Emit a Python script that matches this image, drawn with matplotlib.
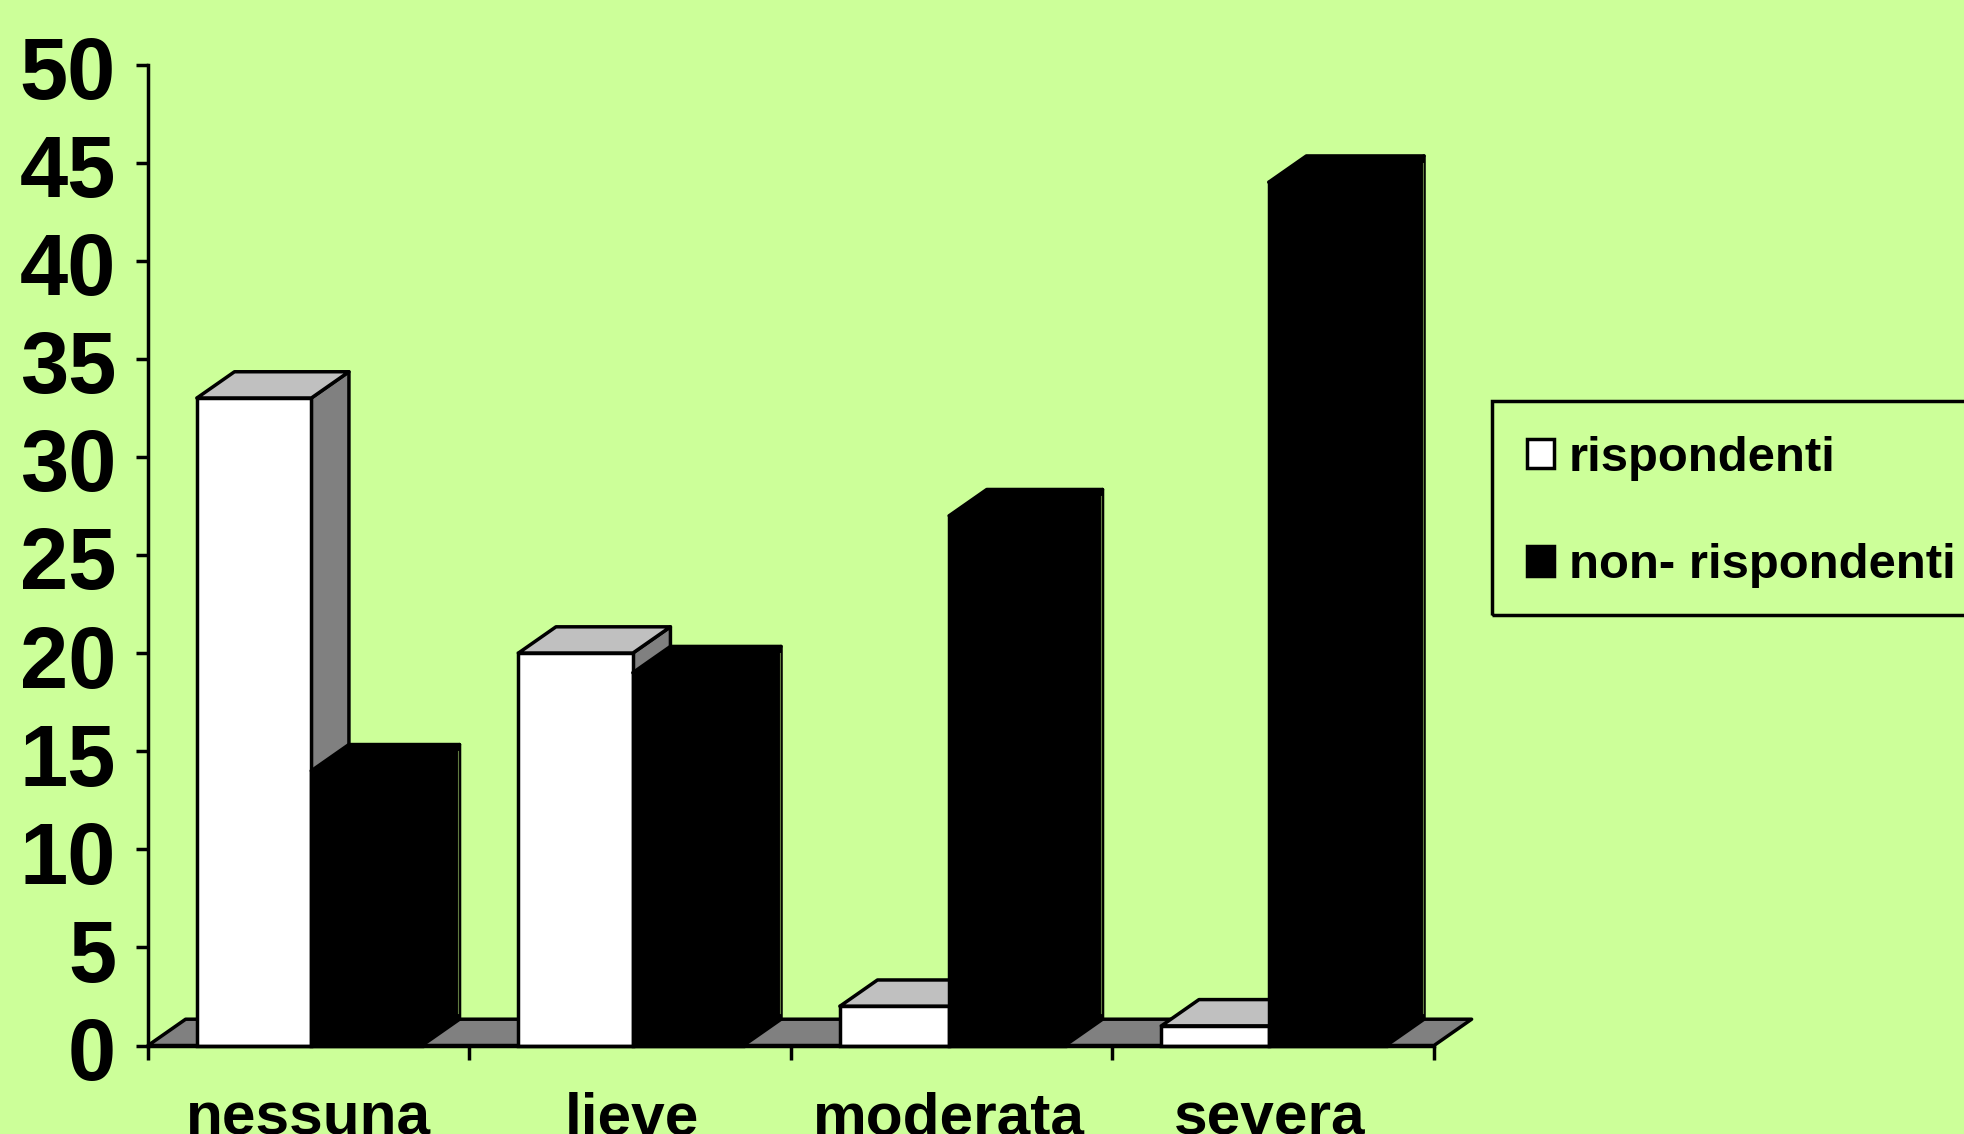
import matplotlib
matplotlib.use("Agg")
import matplotlib.pyplot as plt
from matplotlib.patches import Polygon, Patch, Rectangle
from matplotlib.transforms import ScaledTranslation

categories = ["nessuna", "lieve", "moderata", "severa"]
rispondenti = [33, 20, 2, 1]
non_rispondenti = [14, 19, 27, 44]
y_ticks = [0, 5, 10, 15, 20, 25, 30, 35, 40, 45, 50]
series_names = ["rispondenti", "non- rispondenti"]

W, H = 1965, 1134
BG = "#CCFF99"
plt.rcParams["font.family"] = ["Liberation Sans", "DejaVu Sans"]
plt.rcParams["font.weight"] = "bold"

fig = plt.figure(figsize=(W / 100, H / 100), dpi=100, facecolor=BG)
L, R, T, B = 148, 1434, 64.5, 1045.5
ax = fig.add_axes([L / W, 1 - B / H, (R - L) / W, (B - T) / H], facecolor="none")
ax.set_xlim(0, 4)
ax.set_ylim(0, 50)

DX, DY = 0.117, 1.34   # depth of the 3D effect in data units
LW = 2.5
BAR_START = 0.152
BAR_SPLIT = [0.508, 0.508, 0.492, 0.486]
BAR_END = 0.852
LABEL_POS = [0.5, 0.505, 0.49, 0.49]


def poly(pts, fc, z):
    ax.add_patch(Polygon(pts, closed=True, facecolor=fc, edgecolor="black",
                         linewidth=LW, joinstyle="round", zorder=z, clip_on=False))


def bar3d(x0, x1, h, front, side, top, z):
    poly([(x1, 0), (x1 + DX, DY), (x1 + DX, h + DY), (x1, h)], side, z)
    poly([(x0, h), (x0 + DX, h + DY), (x1 + DX, h + DY), (x1, h)], top, z)
    ax.bar(x0, h, width=x1 - x0, align="edge", color=front, edgecolor="black",
           linewidth=LW, zorder=z + 0.5, clip_on=False)


poly([(0, 0), (DX, DY), (4 + DX, DY), (4, 0)], "#808080", 1)
for i in range(len(categories)):
    s = i + BAR_SPLIT[i]
    e = i + BAR_END
    bar3d(i + BAR_START, s, rispondenti[i], "white", "#808080", "#C0C0C0", 2 + i)
    bar3d(s, e, non_rispondenti[i], "black", "black", "black", 2.6 + i)
    # hairline that shows through the black bar's edge
    ax.plot([e + DX - 0.004] * 2, [DY + 0.3, non_rispondenti[i] + DY - 0.35],
            color="#5F7A40", lw=0.8, zorder=3.4 + i, clip_on=False)

for sp in ("top", "right"):
    ax.spines[sp].set_visible(False)
for sp in ("left", "bottom"):
    ax.spines[sp].set_linewidth(LW)
    ax.spines[sp].set_zorder(10)

ax.set_yticks(y_ticks)
ax.set_yticklabels([str(v) for v in y_ticks], fontsize=62.5, fontweight="bold")
ax.set_xticks(range(5))
ax.set_xticklabels([])
ax.set_xticks([i + LABEL_POS[i] for i in range(4)], minor=True)
ax.set_xticklabels(categories, minor=True, fontsize=43.5, fontweight="bold")
ax.tick_params(axis="y", length=9, width=LW, pad=14)
ax.tick_params(axis="x", which="major", length=10, width=LW)
ax.tick_params(axis="x", which="minor", length=0, pad=33)
for lab in ax.get_yticklabels():
    lab.set_transform(lab.get_transform() + ScaledTranslation(0, -0.03, fig.dpi_scale_trans))

handles = [Patch(facecolor="white", edgecolor="black", linewidth=LW),
           Patch(facecolor="black", edgecolor="black", linewidth=LW)]
leg = fig.legend(handles, series_names, loc="upper left",
                 bbox_to_anchor=(1492 / W, 1 - 401 / H), bbox_transform=fig.transFigure,
                 frameon=False, borderaxespad=0, borderpad=0.71,
                 labelspacing=1.27, handlelength=0.56, handleheight=0.56,
                 handletextpad=0.30, prop={"size": 35.3, "weight": "bold"})
# legend box: runs past the right edge of the picture, as in the reference
fig.add_artist(Rectangle((1492 / W, 1 - 615 / H), 510 / W, 214 / H,
                         transform=fig.transFigure, facecolor="none",
                         edgecolor="black", linewidth=LW))

fig.savefig("out.png", dpi=100, facecolor=BG)
